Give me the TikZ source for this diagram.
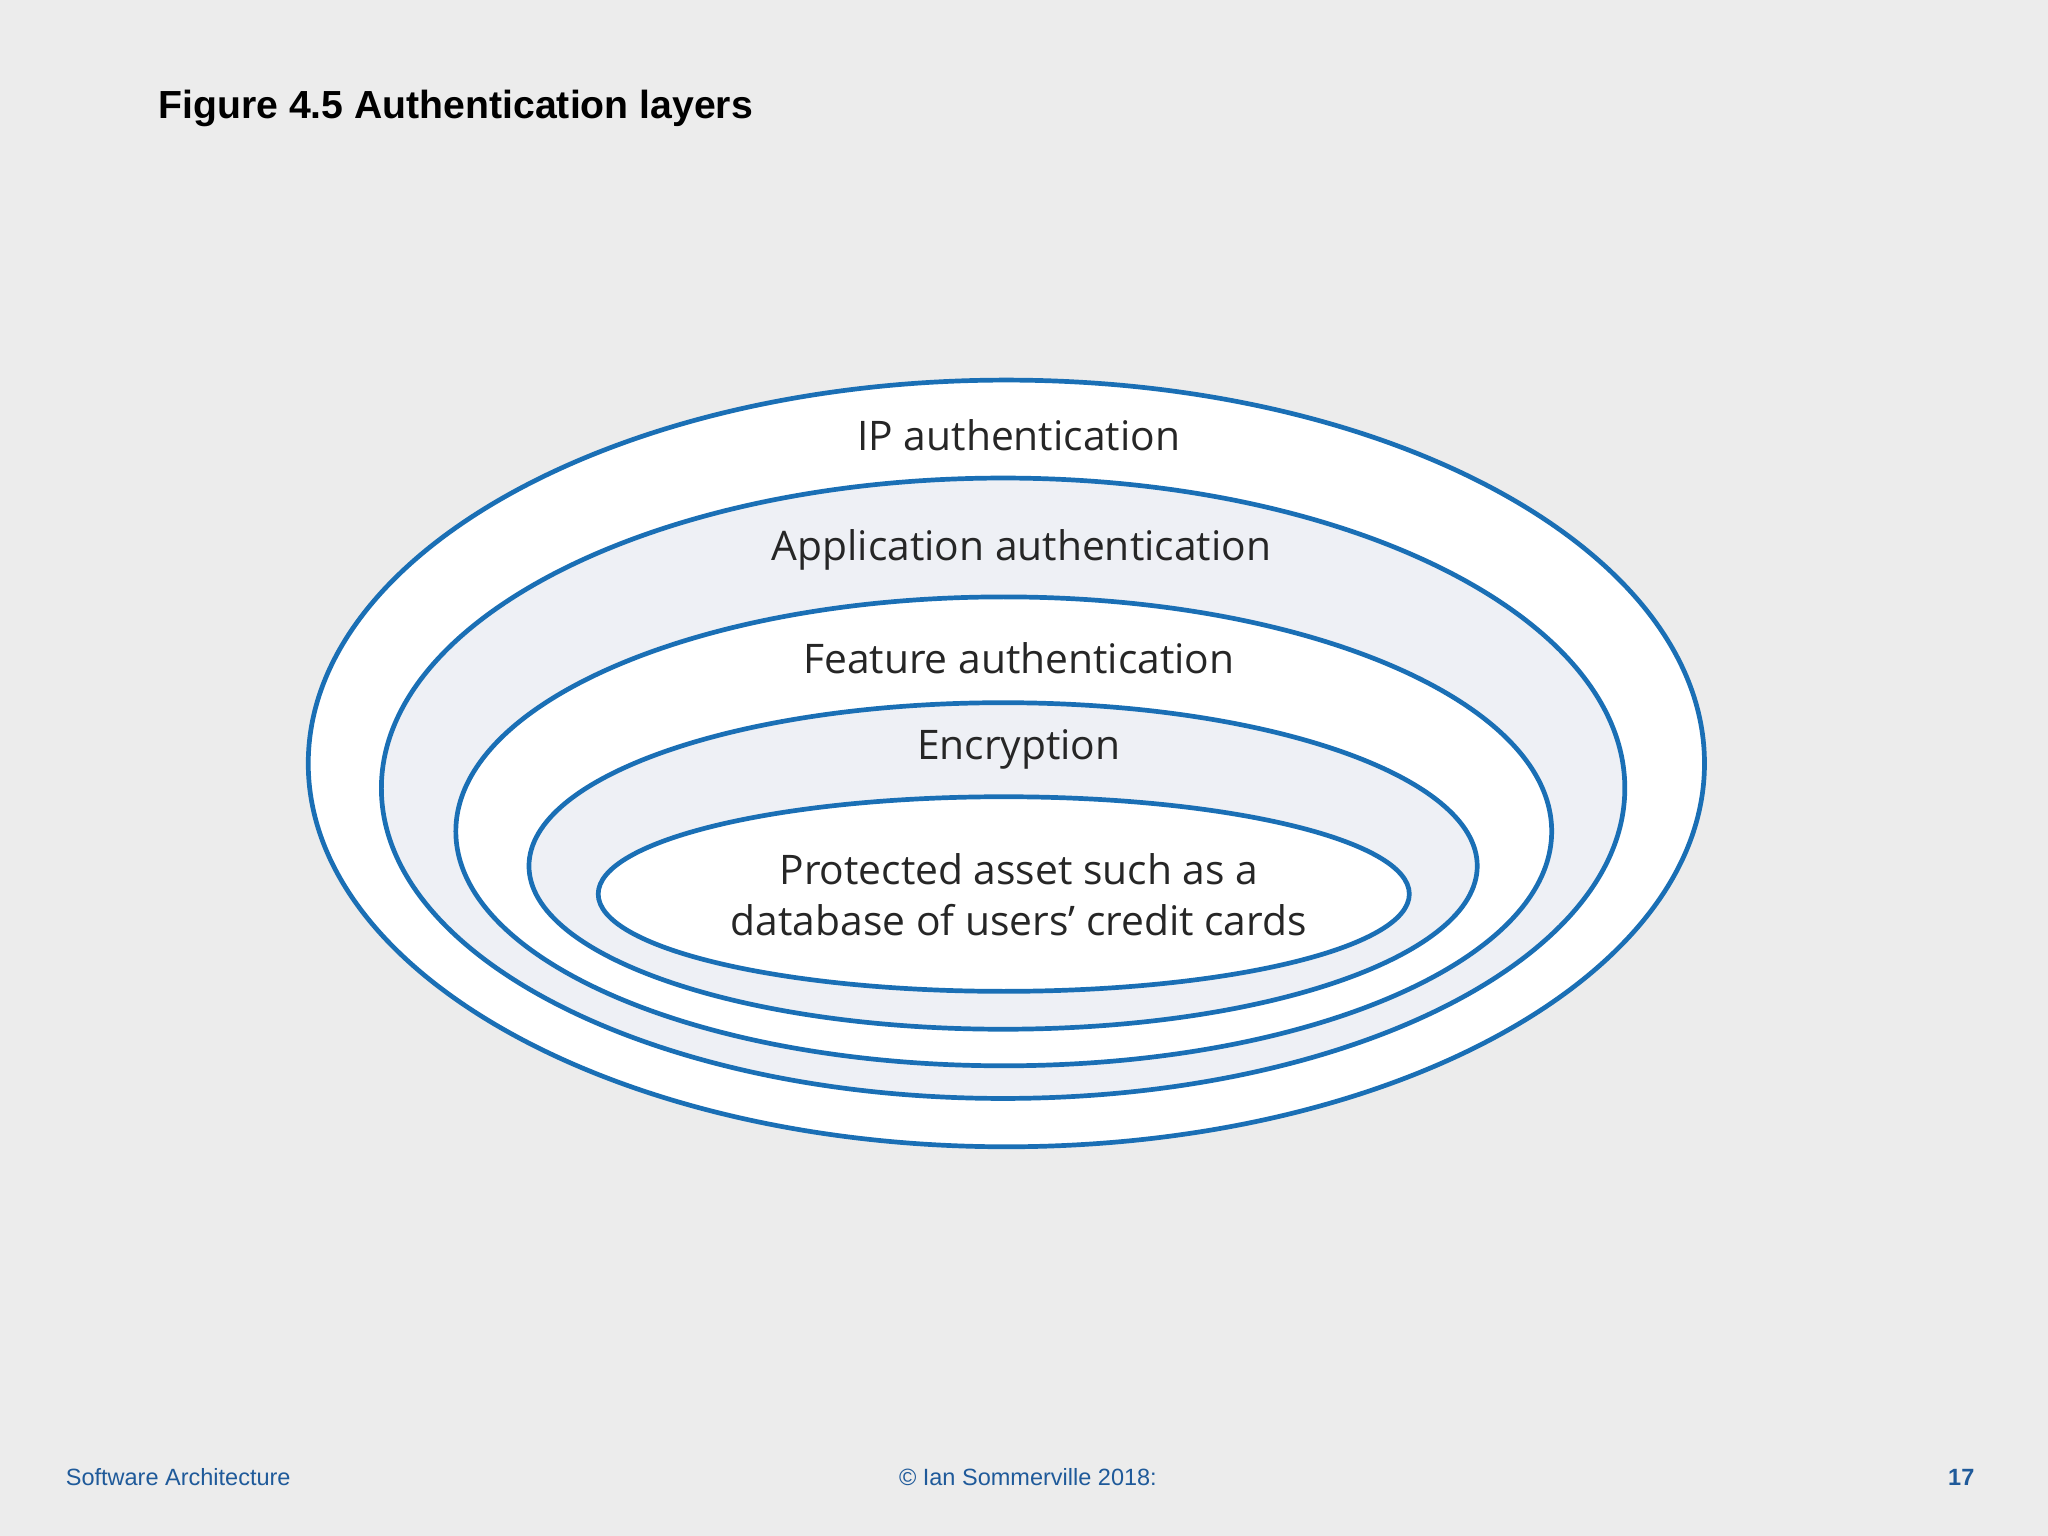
\documentclass[tikz,border=0pt]{standalone}
\usepackage{fontspec}
\setmainfont{Liberation Sans}
\newfontfamily\lblfont{Open Sans}
\definecolor{bg}{HTML}{ECECEC}
\definecolor{ringblue}{HTML}{1A6FB5}
\definecolor{lite}{HTML}{EEF0F5}
\definecolor{foot}{HTML}{1F5A9A}
\begin{document}
\begin{tikzpicture}[x=0.5pt,y=-0.5pt,
  ring/.style={draw=ringblue,line width=1.8pt},
  lbl/.style={font=\lblfont\fontsize{15.6}{19.5}\selectfont,text=black!85,align=center},
  ft/.style={font=\fontsize{9}{11}\selectfont,text=foot,inner sep=0pt}]
\fill[bg] (0,0) rectangle (1568,1176);
\useasboundingbox (0,0) rectangle (1568,1176);
\node[anchor=west,inner sep=0pt,font=\bfseries\fontsize{15}{18}\selectfont] (title) at (121,83) {Figure 4.5 Authentication layers};
\draw[ring,fill=white] (770.5,584.5) ellipse [x radius=534.5,y radius=293.5];
\draw[ring,fill=lite] (768,603.5) ellipse [x radius=476,y radius=237.5];
\draw[ring,fill=white] (768.5,636.5) ellipse [x radius=419.5,y radius=179.5];
\draw[ring,fill=lite] (768,663) ellipse [x radius=363,y radius=125];
\draw[ring,fill=white] (768.5,684.5) ellipse [x radius=310.5,y radius=74.5];
\node[lbl] (ip) at (780,333) {IP authentication};
\node[lbl] (app) at (782,421) {Application authentication};
\node[lbl] (feat) at (780,504) {Feature authentication};
\node[lbl] (enc) at (780,574) {Encryption};
\node[lbl] (asset) at (780,685) {Protected asset such as a\\database of users’ credit cards};
\node[ft,anchor=west] (f1) at (50,1131) {Software Architecture};
\node[ft] (f2) at (787,1131) {© Ian Sommerville 2018:};
\node[ft,anchor=east,font=\bfseries\fontsize{9}{11}\selectfont] (f3) at (1512,1131) {17};
\end{tikzpicture}
\end{document}
